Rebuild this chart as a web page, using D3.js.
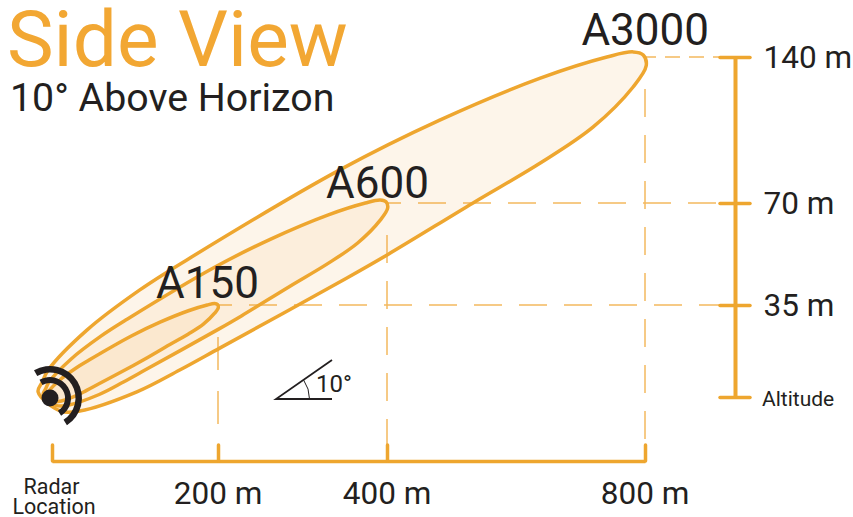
<!DOCTYPE html>
<html lang="en">
<head>
<meta charset="UTF-8">
<title>Side View</title>
<style>
  html, body { margin: 0; background: #fff; }
  svg { display: block; }
  text { font-family: Roboto, sans-serif; fill: #231f20; }
</style>
</head>
<body>
<svg id="svg" width="853" height="517"></svg>
<script src="https://d3js.org/d3.v7.min.js"></script>
<script>
// radars, biggest first so the smaller beams sit on top
const radarNames = ["A3000", "A600", "A150"]
const radarRanges = [800, 400, 200]
const radarAltitudes = [140, 70, 35]

const rangeTicks = [0, 200, 400, 800]
const altitudeTicks = [0, 35, 70, 140]

const beamAlong = [-0.02, -0.013, -0.003, 0.062, 0.151, 0.23, 0.487, 0.655, 0.824, 0.936, 0.98, 0.997, 1.002, 0.98, 0.913, 0.824, 0.711, 0.568, 0.499, 0.286, 0.218, 0.146, 0.05, 0.017]
const beamUp = [0.018, 0.047, 0.082, 0.199, 0.317, 0.405, 0.669, 0.815, 0.938, 1.0, 1.015, 1.006, 0.974, 0.912, 0.795, 0.689, 0.572, 0.421, 0.352, 0.147, 0.082, 0.018, -0.038, -0.038]

const orange = "#eea62f"
const svg = d3.select("svg#svg")

// the source drawing is not to scale, so both axes are piecewise
const x = d3.scaleLinear().domain(rangeTicks).range([52, 218, 387, 645])
const y = d3.scaleLinear().domain(altitudeTicks).range([397, 305, 203, 57])
const originX = x(0) - 2
const originY = y(0) + 1

// dashed leaders
const leaders = svg.append("g").attr("stroke", "#f3b95f").attr("stroke-width", 1.5).attr("fill", "none")
radarNames.forEach((name, i) => {
  leaders.append("line")
    .attr("x1", x(radarRanges[i])).attr("x2", 722)
    .attr("y1", y(radarAltitudes[i])).attr("y2", y(radarAltitudes[i]))
    .attr("stroke-dasharray", i == 0 ? "11 9 15 9 15 9" : "28 17")
    .attr("stroke-dashoffset", i == 0 ? 0 : 14)
  leaders.append("line")
    .attr("x1", x(radarRanges[i])).attr("x2", x(radarRanges[i]))
    .attr("y1", y(radarAltitudes[i]) + 32).attr("y2", 461)
    .attr("stroke-dasharray", i == 2 ? "33 21" : "28 18")
})

// beams
const beamLine = d3.line().curve(d3.curveCatmullRomClosed.alpha(0.5))
radarNames.forEach((name, i) => {
  const w = x(radarRanges[i]) - originX
  const h = originY - y(radarAltitudes[i])
  const pts = beamAlong.map((u, j) => [originX + u * w, originY - beamUp[j] * h])
  svg.append("path")
    .attr("d", beamLine(pts))
    .attr("fill", "#f0a030").attr("fill-opacity", i == 0 ? 0.1 : 0.07)
    .attr("stroke", orange).attr("stroke-width", 3.5)
})

// radar symbol
const radar = svg.append("g").attr("transform", `translate(${originX},${originY})`).attr("fill", "#231f20")
radar.append("circle").attr("r", 8.5)
const arc = d3.arc().startAngle(-30 * Math.PI / 180).endAngle(148 * Math.PI / 180)
radar.append("path").attr("d", arc({ innerRadius: 15, outerRadius: 21 }))
radar.append("path").attr("d", arc({ innerRadius: 25.5, outerRadius: 32 }))

// range axis
const xAxis = d3.axisBottom(x).tickValues(rangeTicks).tickSize(-16).tickSizeOuter(0)
  .tickFormat(d => d == 0 ? "" : d + " m")
const gx = svg.append("g").attr("transform", "translate(0,461)").call(xAxis)
gx.select(".domain").attr("stroke", orange).attr("stroke-width", 3.5)
gx.selectAll(".tick line").attr("stroke", orange).attr("stroke-width", 3.5).attr("stroke-linecap", "round")
gx.selectAll(".tick text").attr("x", -0.5).attr("y", 43).attr("dy", 0)
  .attr("font-family", "Roboto").attr("font-size", 31.5).attr("fill", "#231f20")

svg.append("text").attr("x", 51.5).attr("y", 494).attr("text-anchor", "middle").attr("font-size", 21.5).text("Radar")
svg.append("text").attr("x", 54).attr("y", 514).attr("text-anchor", "middle").attr("font-size", 21.5).text("Location")

// altitude axis
const yAxis = d3.axisRight(y).tickValues(altitudeTicks).tickSize(15).tickSizeOuter(0)
  .tickFormat(d => d == 0 ? "Altitude" : d + " m")
const gy = svg.append("g").attr("transform", "translate(735,0)").call(yAxis)
gy.select(".domain").attr("stroke", orange).attr("stroke-width", 4)
gy.selectAll(".tick line").attr("x1", -15).attr("stroke", orange).attr("stroke-width", 3.5).attr("stroke-linecap", "round")
gy.selectAll(".tick text").attr("x", d => d == 0 ? 27 : 28.5).attr("dy", d => d == 0 ? 8 : 10)
  .attr("font-family", "Roboto").attr("font-size", d => d == 0 ? 21 : 31.5).attr("fill", "#231f20")

// radar names
const labelRight = [709, 429, 259]
const labelBase = [45, 198, 298]
radarNames.forEach((name, i) => {
  svg.append("text").attr("x", labelRight[i]).attr("y", labelBase[i])
    .attr("text-anchor", "end").attr("font-size", 44).text(name)
})

// 10 degree mark
const angle = svg.append("g").attr("fill", "none").attr("stroke", "#231f20")
angle.append("path").attr("d", d3.line()([[332, 360], [276, 399], [332, 399]])).attr("stroke-width", 1.8)
const sweep = d3.path()
sweep.arc(276, 399, 33.5, -0.6, 0)
angle.append("path").attr("d", sweep.toString()).attr("stroke-width", 1)
svg.append("text").attr("x", 316).attr("y", 392).attr("font-size", 24).text("10°")

// titles
svg.append("text").attr("x", 7).attr("y", 66).attr("font-size", 78.5)
  .style("fill", "#f2a733").text("Side View")
svg.append("text").attr("x", 10).attr("y", 111).attr("font-size", 39.3).text("10° Above Horizon")
</script>
</body>
</html>
